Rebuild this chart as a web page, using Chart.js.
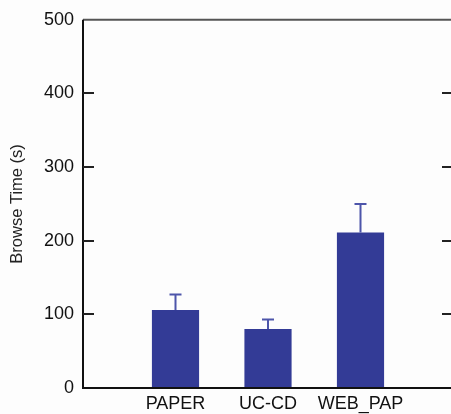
<!DOCTYPE html>
<html>
<head>
<meta charset="utf-8">
<script src="https://cdn.jsdelivr.net/npm/chart.js@4/dist/chart.umd.min.js"></script>
<style>
  html, body { margin: 0; padding: 0; background: #fdfdfd; overflow: hidden; }
  #wrap { width: 460px; height: 414px; position: relative; }
</style>
</head>
<body>
<div id="wrap"><canvas id="c"></canvas></div>
<script>
// ---- data ----
const categories = ['PAPER', 'UC-CD', 'WEB_PAP'];
const browseTime = [106, 80, 211];
const errorUp = [21, 13, 39];
const yTicks = [0, 100, 200, 300, 400, 500];
const yTitle = 'Browse Time (s)';

// padded category axis (empty slot on each side)
const labels = [''].concat(categories, ['']);
const values = [null].concat(browseTime, [null]);
const errors = [null].concat(errorUp, [null]);

const framePlugin = {
  id: 'frame',
  afterDraw(chart) {
    const ctx = chart.ctx;
    const a = chart.chartArea;
    const y = chart.scales.y;
    // error bars
    const meta = chart.getDatasetMeta(0);
    ctx.save();
    ctx.strokeStyle = '#4d55aa';
    ctx.lineWidth = 2;
    meta.data.forEach((bar, i) => {
      if (values[i] == null) return;
      const yt = y.getPixelForValue(values[i] + errors[i]);
      const yb = y.getPixelForValue(values[i]);
      ctx.beginPath();
      ctx.moveTo(bar.x, yb);
      ctx.lineTo(bar.x, yt);
      ctx.moveTo(bar.x - 6, yt);
      ctx.lineTo(bar.x + 6, yt);
      ctx.stroke();
    });
    // frame
    ctx.lineWidth = 2;
    ctx.strokeStyle = '#555';
    ctx.beginPath();
    ctx.moveTo(a.left, a.top); ctx.lineTo(a.right, a.top);
    ctx.stroke();
    ctx.strokeStyle = '#111';
    ctx.beginPath();
    ctx.moveTo(a.left, a.top); ctx.lineTo(a.left, a.bottom); ctx.lineTo(a.right, a.bottom);
    ctx.stroke();
    // inward ticks
    ctx.strokeStyle = '#222';
    ctx.lineWidth = 2;
    yTicks.forEach(v => {
      if (v === 0 || v === 500) return;
      const py = Math.round(y.getPixelForValue(v));
      ctx.beginPath();
      ctx.moveTo(a.left, py); ctx.lineTo(a.left + 11, py);
      ctx.stroke();
      ctx.beginPath();
      ctx.moveTo(a.right, py); ctx.lineTo(a.right - 11, py);
      ctx.stroke();
    });
    ctx.restore();
  }
};

new Chart(document.getElementById('c'), {
  type: 'bar',
  data: {
    labels: labels,
    datasets: [{
      data: values,
      backgroundColor: '#333b96',
      borderWidth: 0,
      categoryPercentage: 1,
      barPercentage: 0.51
    }]
  },
  options: {
    responsive: true,
    maintainAspectRatio: false,
    animation: false,
    devicePixelRatio: 1,
    layout: { padding: { left: 0, top: 17, right: 7, bottom: 0 } },
    plugins: { legend: { display: false }, tooltip: { enabled: false } },
    scales: {
      x: {
        type: 'category',
        offset: false,
        grid: { display: false, drawTicks: false },
        border: { display: false },
        ticks: { color: '#111', font: { family: 'Liberation Sans, Arial', size: 18 }, padding: 5, maxRotation: 0, autoSkip: false },
        afterFit(s) { s.height = 26; }
      },
      y: {
        type: 'linear',
        min: 0, max: 500,
        afterBuildTicks(s) { s.ticks = yTicks.map(v => ({ value: v })); },
        grid: { display: false, drawTicks: false },
        border: { display: false },
        ticks: { color: '#111', font: { family: 'Liberation Sans, Arial', size: 18 }, padding: 9 },
        title: { display: true, text: yTitle, color: '#222', font: { family: 'Liberation Sans, Arial', size: 16.5 }, padding: { top: 8, bottom: 0 } },
        afterFit(s) { s.width = 83; }
      }
    }
  },
  plugins: [framePlugin]
});
</script>
</body>
</html>
